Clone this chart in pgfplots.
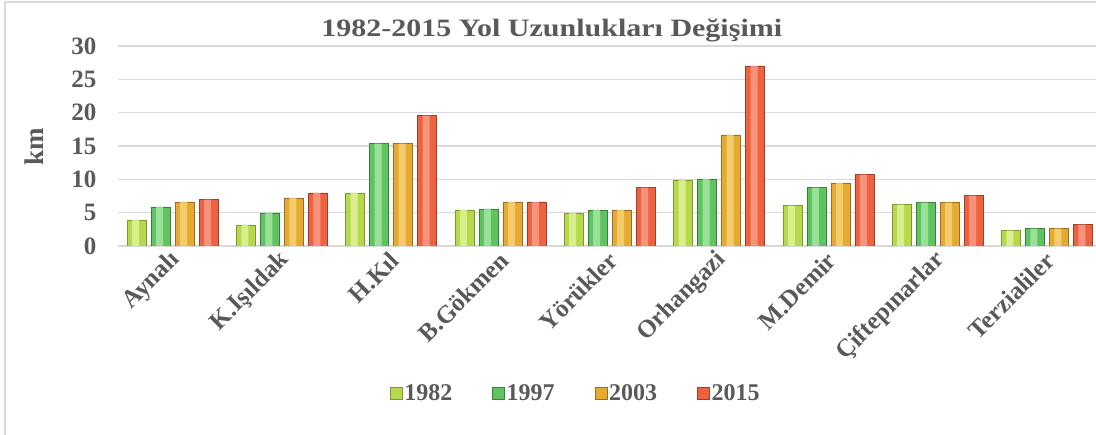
\documentclass[border=0pt]{standalone}
\usepackage{graphicx}
\usepackage{pgfplots}
\pgfplotsset{compat=1.18}
\usepackage{fontspec}
\setmainfont{Liberation Serif}
\definecolor{txt}{HTML}{595959}
\definecolor{gridc}{HTML}{D9D9D9}
\definecolor{cA}{HTML}{B5D94A}\definecolor{cAl}{HTML}{E2F59C}\definecolor{cAd}{HTML}{7E9A2E}
\definecolor{cB}{HTML}{5FC35F}\definecolor{cBl}{HTML}{A8E8A8}\definecolor{cBd}{HTML}{3C7F3C}
\definecolor{cC}{HTML}{E4AA32}\definecolor{cCl}{HTML}{FAD57A}\definecolor{cCd}{HTML}{9A7020}
\definecolor{cD}{HTML}{EE6240}\definecolor{cDl}{HTML}{FBA08A}\definecolor{cDd}{HTML}{9A3F2A}
\pgfplotstableread{
x a b c d
0 3.9 5.85 6.6 6.95
1 3.15 4.95 7.2 7.95
2 7.95 15.35 15.35 19.55
3 5.4 5.55 6.6 6.6
4 4.95 5.4 5.4 8.75
5 9.9 10.05 16.65 27.0
6 6.05 8.75 9.45 10.7
7 6.2 6.5 6.5 7.55
8 2.3 2.6 2.6 3.2
}\data
\newcommand{\bigf}{\bfseries\fontsize{24}{28}\selectfont}
\begin{document}
\begin{tikzpicture}[font=\bigf]
\useasboundingbox (-118pt,-189pt) rectangle (978pt,246pt);
\draw[gridc, line width=1.2pt] (-113pt,-215pt) rectangle (1000pt,244pt);
\begin{axis}[
  at={(0pt,0pt)}, anchor=south west,
  scale only axis, width=978pt, height=200pt,
  ybar, bar width=19pt,
  xmin=-0.5, xmax=8.45, ymin=0, ymax=30,
  xtick={0,...,8},
  xticklabels={Aynalı,K.Işıldak,H.Kıl,B.Gökmen,Yörükler,Orhangazi,M.Demir,Çiftepınarlar,Terzialiler},
  xticklabel style={anchor=east, text=txt, font=\bfseries\fontsize{25}{28}\selectfont, xshift=6pt, yshift=-8pt, rotate=45},
  ytick={0,5,...,30},
  yticklabel style={text=txt, font=\bfseries\fontsize{25}{28}\selectfont, /pgf/number format/assume math mode=true, xshift=-18pt},
  major tick length=0pt,
  ymajorgrids, grid style={gridc, line width=1.2pt},
  axis x line*=bottom, axis y line*=left,
  x axis line style={gridc, line width=1.2pt},
  y axis line style={draw=none},
  ylabel={km}, ylabel style={text=txt, font=\bfseries\fontsize{27}{30}\selectfont, at={(rel axis cs:-0.0859,0.495)}, anchor=center},
  title={\scalebox{1.2}[1]{1982-2015 Yol Uzunlukları Değişimi}},
  title style={text=txt, font=\bfseries\fontsize{25}{28}\selectfont, at={(rel axis cs:0.4435,1)}, anchor=center, yshift=10pt},
  legend style={at={(rel axis cs:0.468,-0.735)}, anchor=center, draw=none, fill=none, font=\bfseries\fontsize{24}{28}\selectfont,
     legend columns=4, text=txt, /tikz/every even column/.append style={column sep=38pt}},
  legend image code/.code={\draw[#1] (0pt,-6pt) rectangle (12pt,6pt);},
]
\addplot[bar shift=-36pt, draw=cAd, fill=cA] table[x=x,y=a]{\data};
\addplot[bar shift=-12pt, draw=cBd, fill=cB] table[x=x,y=b]{\data};
\addplot[bar shift=12pt, draw=cCd, fill=cC] table[x=x,y=c]{\data};
\addplot[bar shift=36pt, draw=cDd, fill=cD] table[x=x,y=d]{\data};
\legend{1982,1997,2003,2015}
\addplot[forget plot, bar shift=-37pt, bar width=7pt, draw=none, fill=cAl, fill opacity=0.8] table[x=x,y=a]{\data};
\addplot[forget plot, bar shift=-13pt, bar width=7pt, draw=none, fill=cBl, fill opacity=0.8] table[x=x,y=b]{\data};
\addplot[forget plot, bar shift=11pt, bar width=7pt, draw=none, fill=cCl, fill opacity=0.8] table[x=x,y=c]{\data};
\addplot[forget plot, bar shift=35pt, bar width=7pt, draw=none, fill=cDl, fill opacity=0.8] table[x=x,y=d]{\data};
\end{axis}
\end{tikzpicture}
\end{document}
